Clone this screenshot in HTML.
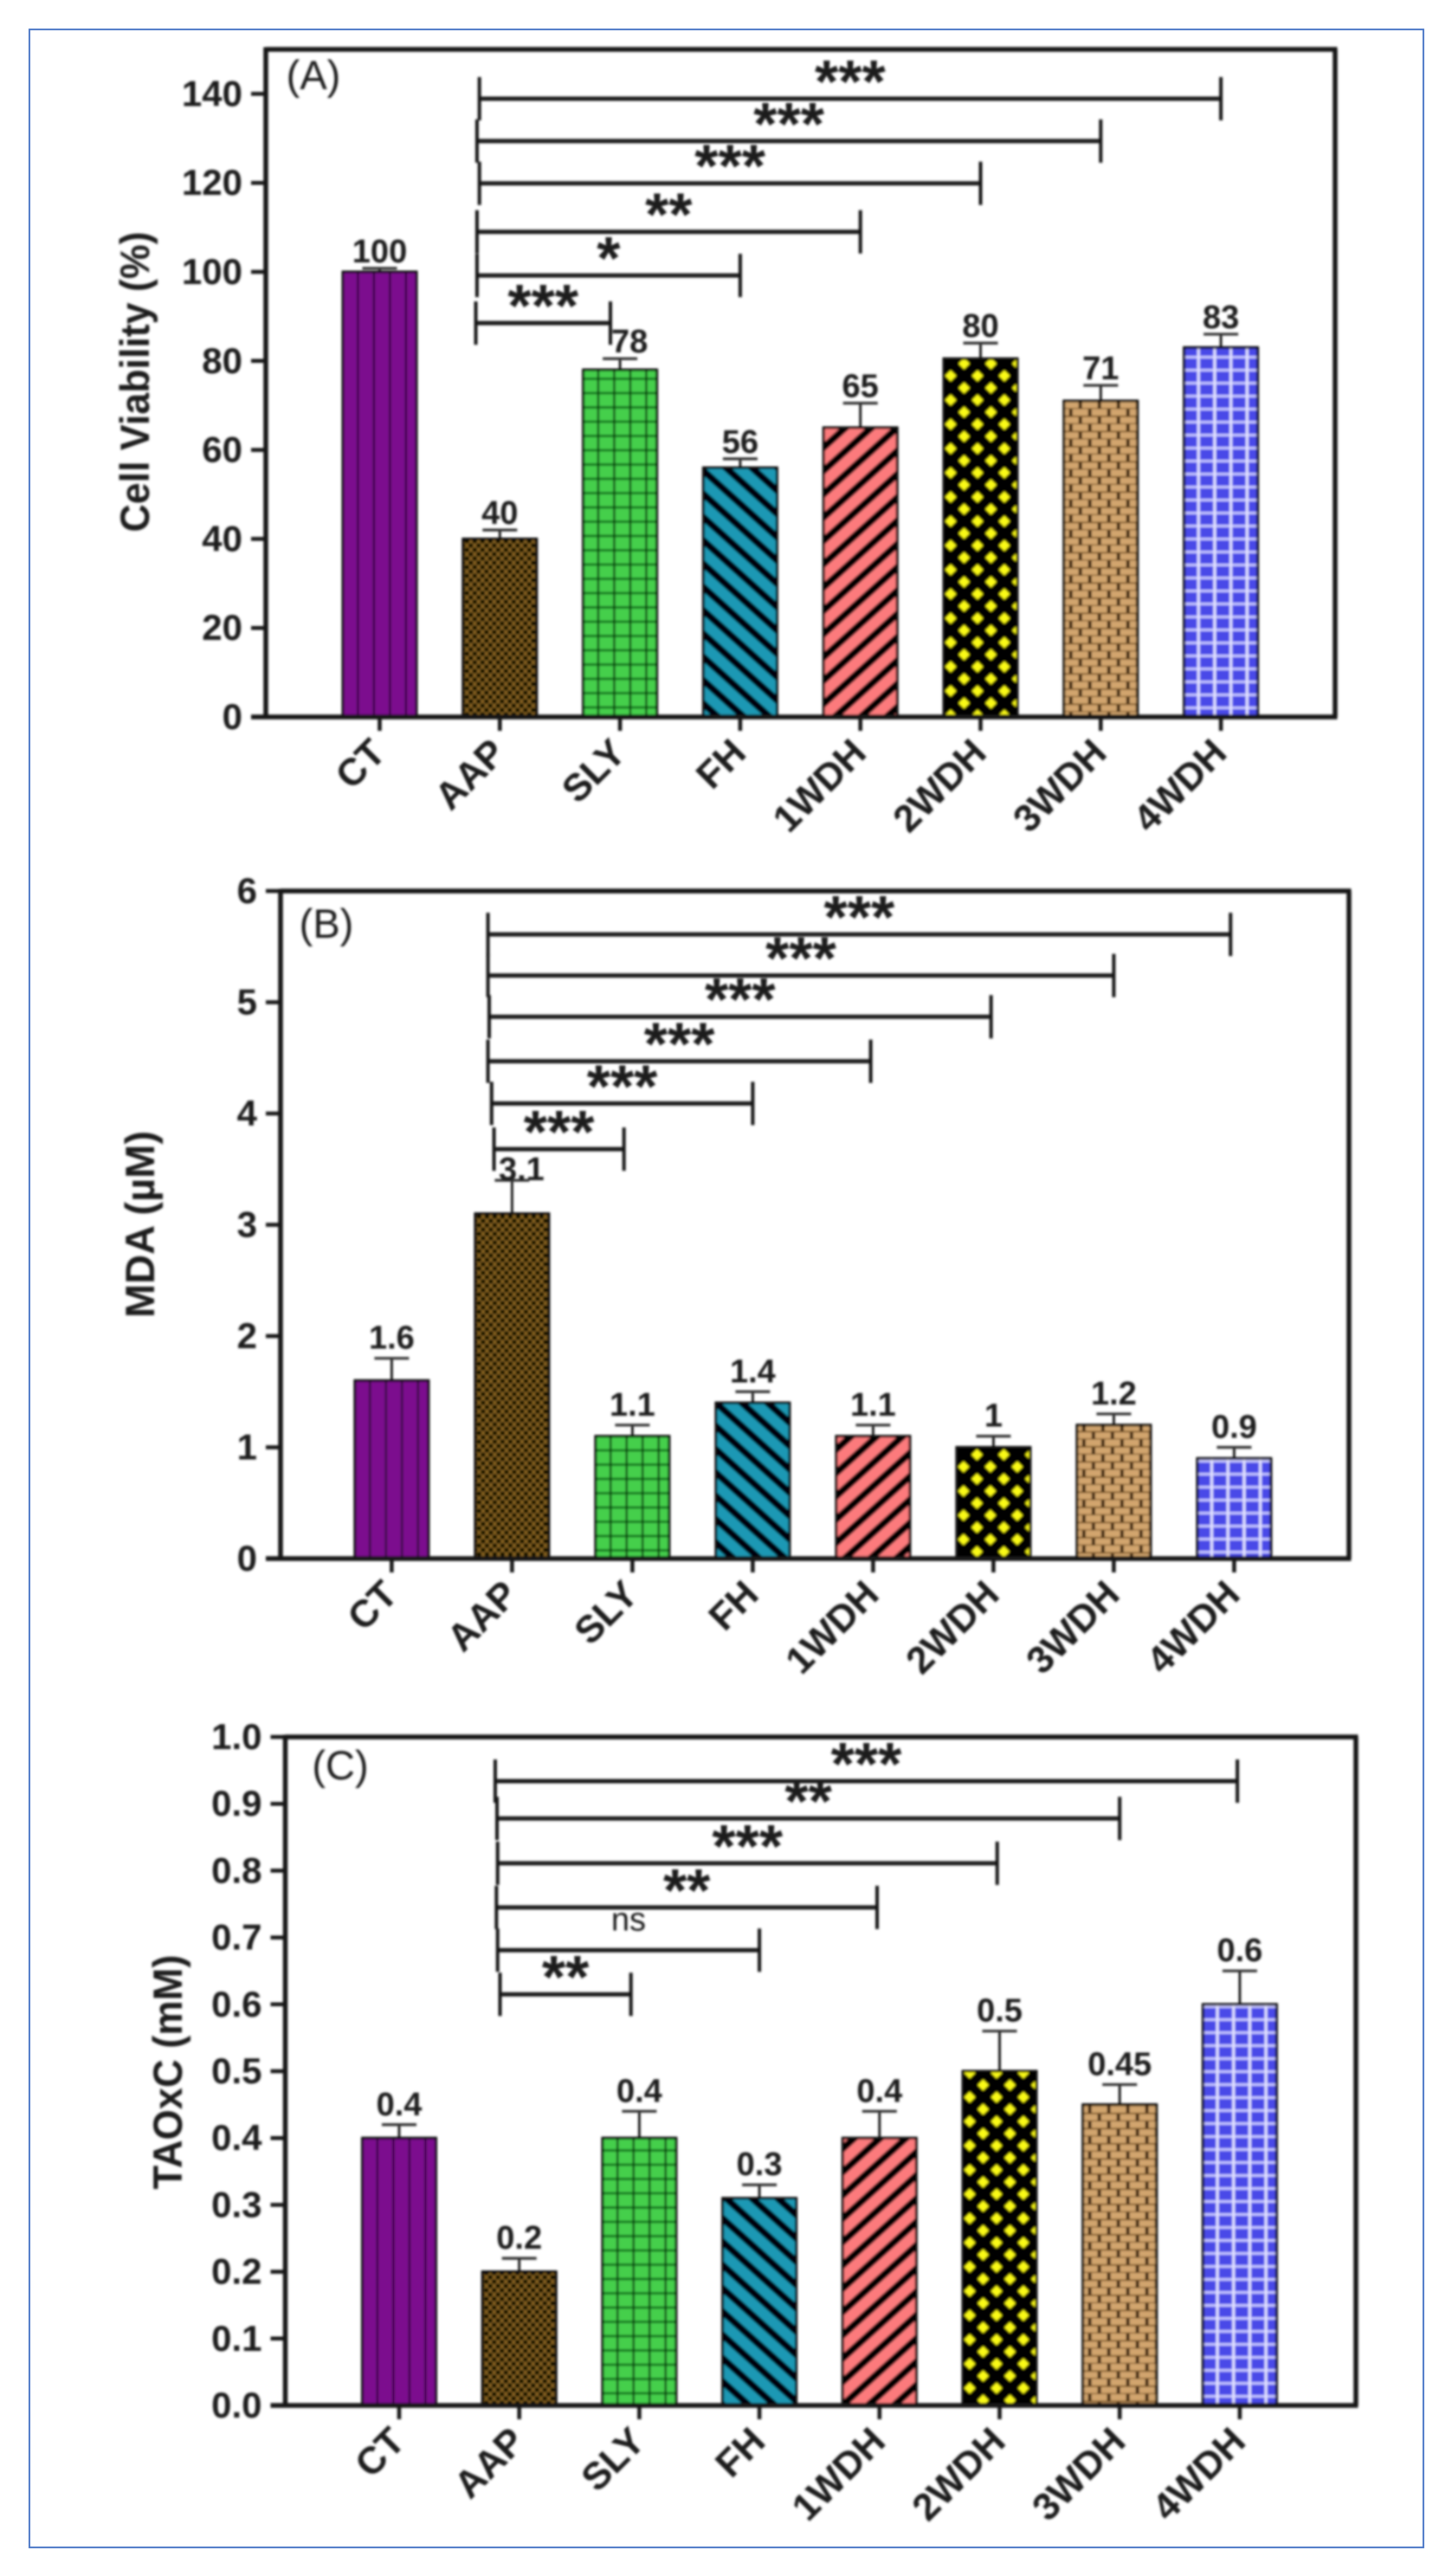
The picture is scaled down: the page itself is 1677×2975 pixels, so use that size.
<!DOCTYPE html>
<html lang="en">
<head>
<meta charset="utf-8">
<title>Cell viability, MDA and TAOxC bar charts</title>
<style>
  html, body { margin: 0; padding: 0; background: #fff; }
  #figure { display: block; width: 1677px; height: 2975px; }
  #frame { position: absolute; left: 33px; top: 33px; width: 1608px; height: 2906px; border: 2px solid #4472c4; box-sizing: content-box; }
  text { font-family: "Liberation Sans", sans-serif; fill: #1c1c1c; }
</style>
</head>
<body>
<div id="frame"></div>
<svg id="figure" xmlns="http://www.w3.org/2000/svg" width="1677" height="2975" viewBox="0 0 1677 2975">
  <defs>
    <filter id="soft" x="-2%" y="-2%" width="104%" height="104%"><feGaussianBlur stdDeviation="1.25"/></filter>
    <pattern id="p-ct" patternUnits="userSpaceOnUse" width="18.5" height="20">
      <rect width="18.5" height="20" fill="#7b0a8e"/>
      <rect x="16.3" width="2.8" height="20" fill="#2c0636"/>
    </pattern>
    <pattern id="p-aap" patternUnits="userSpaceOnUse" width="9" height="10">
      <rect width="9" height="10" fill="#8a6521"/>
      <circle cx="0" cy="0" r="2.9" fill="#0e0801"/>
      <circle cx="9" cy="0" r="2.9" fill="#0e0801"/>
      <circle cx="0" cy="10" r="2.9" fill="#0e0801"/>
      <circle cx="9" cy="10" r="2.9" fill="#0e0801"/>
      <circle cx="4.5" cy="5" r="2.9" fill="#0e0801"/>
    </pattern>
    <pattern id="p-sly" patternUnits="userSpaceOnUse" width="18.5" height="16.5">
      <rect width="18.5" height="16.5" fill="#44cf4c"/>
      <rect y="7" width="18.5" height="3" fill="#157a20"/>
      <rect x="16.2" width="3.2" height="16.5" fill="#073f0e"/>
    </pattern>
    <pattern id="p-fh" patternUnits="userSpaceOnUse" width="20" height="20" patternTransform="rotate(42)">
      <rect width="20" height="20" fill="#1a98b4"/>
      <rect width="20" height="8" fill="#020408"/>
    </pattern>
    <pattern id="p-wdh1" patternUnits="userSpaceOnUse" width="20" height="20" patternTransform="rotate(-42)">
      <rect width="20" height="20" fill="#fc7a7c"/>
      <rect width="20" height="8" fill="#030102"/>
    </pattern>
    <pattern id="p-wdh2" patternUnits="userSpaceOnUse" width="31" height="28">
      <rect width="31" height="28" fill="#040402"/>
      <polygon points="8,7.5 14.5,14 8,20.5 1.5,14" fill="#fafa18"/>
      <polygon points="23.5,-6.5 30,0 23.5,6.5 17,0" fill="#fafa18"/>
      <polygon points="23.5,21.5 30,28 23.5,34.5 17,28" fill="#fafa18"/>
    </pattern>
    <pattern id="p-wdh3" patternUnits="userSpaceOnUse" width="22" height="17.5">
      <rect width="22" height="17.5" fill="#d2a56e"/>
      <rect y="7.4" width="22" height="1.9" fill="#7f5a2c"/>
      <rect y="16.2" width="22" height="1.9" fill="#7f5a2c"/>
      <rect x="6" y="0" width="3.8" height="8" fill="#341c05"/>
      <rect x="17" y="9" width="3.8" height="8" fill="#341c05"/>
    </pattern>
    <pattern id="p-wdh4" patternUnits="userSpaceOnUse" width="18.7" height="15">
      <rect width="18.7" height="15" fill="#4a4ae8"/>
      <rect y="6" width="18.7" height="3" fill="#c4c4ff"/>
      <rect x="15" width="3.2" height="15" fill="#e2e2ff"/>
    </pattern>
  </defs>
  <g id="root" filter="url(#soft)"></g>
</svg>
<script>
// Shared category axis
var categories = ['CT', 'AAP', 'SLY', 'FH', '1WDH', '2WDH', '3WDH', '4WDH'];
var barPatterns = ['p-ct', 'p-aap', 'p-sly', 'p-fh', 'p-wdh1', 'p-wdh2', 'p-wdh3', 'p-wdh4'];

// Panel A: cell viability
var viabilityValues = [100, 40, 78, 56, 65, 80.5, 71, 83];
var viabilityErrorTops = [100.8, 42, 80.5, 58, 70.5, 84, 74.5, 86];
var viabilityLabels = ['100', '40', '78', '56', '65', '80', '71', '83'];
var viabilityTicks = [0, 20, 40, 60, 80, 100, 120, 140];
var viabilityTickLabels = ['0', '20', '40', '60', '80', '100', '120', '140'];
var viabilityBracketLevels = [138.9, 129.4, 119.9, 109, 99.2, 88.5];
var viabilityBracketStarts = [0.83, 0.81, 0.83, 0.81, 0.81, 0.80];
var viabilityBracketEnds = [7, 6, 5, 4, 3, 1.92];
var viabilityBracketMarks = ['***', '***', '***', '**', '*', '***'];

// Panel B: MDA
var mdaValues = [1.6, 3.1, 1.1, 1.4, 1.1, 1, 1.2, 0.9];
var mdaErrorTops = [1.8, 3.4, 1.2, 1.5, 1.2, 1.1, 1.3, 1];
var mdaLabels = ['1.6', '3.1', '1.1', '1.4', '1.1', '1', '1.2', '0.9'];
var mdaTicks = [0, 1, 2, 3, 4, 5, 6];
var mdaTickLabels = ['0', '1', '2', '3', '4', '5', '6'];
var mdaBracketLevels = [5.61, 5.24, 4.87, 4.47, 4.09, 3.68];
var mdaBracketStarts = [0.8, 0.8, 0.81, 0.8, 0.83, 0.85];
var mdaBracketEnds = [6.97, 6, 4.98, 3.98, 3, 1.93];
var mdaBracketMarks = ['***', '***', '***', '***', '***', '***'];

// Panel C: TAOxC
var taoValues = [0.4, 0.2, 0.4, 0.31, 0.4, 0.5, 0.45, 0.6];
var taoErrorTops = [0.42, 0.22, 0.44, 0.33, 0.44, 0.56, 0.48, 0.65];
var taoLabels = ['0.4', '0.2', '0.4', '0.3', '0.4', '0.5', '0.45', '0.6'];
var taoTicks = [0, 0.1, 0.2, 0.3, 0.4, 0.5, 0.6, 0.7, 0.8, 0.9, 1];
var taoTickLabels = ['0.0', '0.1', '0.2', '0.3', '0.4', '0.5', '0.6', '0.7', '0.8', '0.9', '1.0'];
var taoBracketLevels = [0.934, 0.878, 0.811, 0.745, 0.681, 0.615];
var taoBracketStarts = [0.8, 0.815, 0.82, 0.81, 0.82, 0.84];
var taoBracketEnds = [6.98, 6, 4.98, 3.98, 3, 1.93];
var taoBracketMarks = ['***', '**', '***', '**', 'ns', '**'];

var SVGNS = 'http://www.w3.org/2000/svg';
var INK = '#141414';

function make(tag, attrs, parent, content) {
  var node = document.createElementNS(SVGNS, tag);
  for (var key in attrs) { node.setAttribute(key, attrs[key]); }
  if (content !== undefined) { node.textContent = content; }
  parent.appendChild(node);
  return node;
}

function drawPanel(cfg) {
  var yScale = function (v) { return cfg.bottom - (v / cfg.yMax) * (cfg.bottom - cfg.top); };
  var xScale = function (i) { return cfg.x0 + i * cfg.step; };
  var BAR_HALF = 42.5, CAP_HALF = 20;

  var panel = make('g', {}, document.getElementById('root'));
  
  

  // Bars, error bars, value labels
  categories.forEach(function (cat, i) {
    var cx = xScale(i);
    var top = yScale(cfg.values[i]);
    var errY = yScale(cfg.errorTops[i]);

    var stem = make('line', { x1: cx, x2: cx, y1: top, y2: errY, stroke: INK, 'stroke-width': 2.8 }, panel);
    
    

    var cap = make('line', { x1: cx - CAP_HALF, x2: cx + CAP_HALF, y1: errY, y2: errY, stroke: '#333', 'stroke-width': 3.2 }, panel);
    
    

    var bar = make('rect', {
      x: 0, y: top, width: BAR_HALF * 2, height: cfg.bottom - top,
      transform: 'translate(' + (cx - BAR_HALF) + ',0)',
      fill: 'url(#' + barPatterns[i] + ')', stroke: '#0c0c0c', 'stroke-width': 3
    }, panel);
    
    

    var nudge = cfg.nudgeIndex === i ? cfg.nudge : { dx: 0, dy: 0 };
    var label = make('text', {
      x: cx + nudge.dx, y: errY - cfg.labelGap + nudge.dy,
      'text-anchor': 'middle', 'font-size': 38, 'font-weight': 'bold'
    }, panel, cfg.labels[i]);
    
    
  });

  // Axes
  var axisL = make('line', { x1: cfg.left, x2: cfg.left, y1: cfg.top - 2.5, y2: cfg.bottom + 2.5, stroke: INK, 'stroke-width': 5.5 }, panel);
  
  

  var axisB = make('line', { x1: cfg.left - 17, x2: cfg.right + 2.5, y1: cfg.bottom, y2: cfg.bottom, stroke: INK, 'stroke-width': 5.5 }, panel);
  
  

  var axisT = make('line', { x1: cfg.left, x2: cfg.right + 2.5, y1: cfg.top, y2: cfg.top, stroke: INK, 'stroke-width': 5.5 }, panel);
  
  

  var axisR = make('line', { x1: cfg.right, x2: cfg.right, y1: cfg.top, y2: cfg.bottom, stroke: INK, 'stroke-width': 5.5 }, panel);
  
  

  // Y ticks
  cfg.ticks.forEach(function (t, i) {
    var y = yScale(t);
    var tick = make('line', { x1: cfg.left - 17, x2: cfg.left, y1: y, y2: y, stroke: INK, 'stroke-width': 4.5 }, panel);
    
    

    var lab = make('text', { x: cfg.left - 27, y: y + 14, 'text-anchor': 'end', 'font-size': 42, 'font-weight': 'bold' }, panel, cfg.tickLabels[i]);
    
    
  });

  // X ticks and labels
  categories.forEach(function (cat, i) {
    var cx = xScale(i);
    var tick = make('line', { x1: cx, x2: cx, y1: cfg.bottom, y2: cfg.bottom + 16, stroke: INK, 'stroke-width': 4.5 }, panel);
    
    

    var ax = cx + 9, ay = cfg.bottom + 44;
    var lab = make('text', {
      x: ax, y: ay, 'text-anchor': 'end', 'font-size': 44, 'font-weight': 'bold',
      transform: 'rotate(-45 ' + ax + ' ' + ay + ')'
    }, panel, cat);
    
    
  });

  // Significance brackets
  cfg.bracketLevels.forEach(function (level, i) {
    var y = yScale(level);
    var x1 = xScale(cfg.bracketStarts[i]);
    var x2 = xScale(cfg.bracketEnds[i]);
    var H = 25;

    var span = make('line', { x1: x1, x2: x2, y1: y, y2: y, stroke: '#1e1e1e', 'stroke-width': 5 }, panel);
    
    

    var capL = make('line', { x1: x1, x2: x1, y1: y - H, y2: y + H, stroke: '#141414', 'stroke-width': 4 }, panel);
    
    

    var capR = make('line', { x1: x2, x2: x2, y1: y - H, y2: y + H, stroke: '#141414', 'stroke-width': 4 }, panel);
    
    

    var mark = cfg.bracketMarks[i];
    var mid = (x1 + x2) / 2;
    var sig;
    if (mark === 'ns') {
      sig = make('text', { x: mid, y: y - 23, 'text-anchor': 'middle', 'font-size': 38, fill: '#444' }, panel, mark);
    } else {
      sig = make('text', { x: mid, y: y + 4, 'text-anchor': 'middle', 'font-size': 70, 'font-weight': 'bold' }, panel, mark);
    }
    
    
  });

  // Axis title
  var title = make('text', {
    x: cfg.titleX, y: cfg.titleY, 'text-anchor': 'middle', 'font-size': 47, 'font-weight': 'bold',
    textLength: cfg.titleLength, lengthAdjust: 'spacingAndGlyphs',
    transform: 'rotate(-90 ' + cfg.titleX + ' ' + cfg.titleY + ')'
  }, panel, cfg.title);
  
  

  // Panel letter
  var letter = make('text', { x: cfg.letterX, y: cfg.letterY, 'text-anchor': 'middle', 'font-size': 47 }, panel, cfg.letter);
  
  
}

drawPanel({
  id: 'a', letter: '(A)', title: 'Cell Viability (%)',
  left: 307, right: 1542, top: 57, bottom: 828, yMax: 150, x0: 438.5, step: 138.8,
  values: viabilityValues, errorTops: viabilityErrorTops, labels: viabilityLabels,
  ticks: viabilityTicks, tickLabels: viabilityTickLabels,
  bracketLevels: viabilityBracketLevels, bracketStarts: viabilityBracketStarts,
  bracketEnds: viabilityBracketEnds, bracketMarks: viabilityBracketMarks,
  labelGap: 7, nudgeIndex: 2, nudge: { dx: 11, dy: 0 },
  titleX: 172, titleY: 441, titleLength: 347, letterX: 362, letterY: 103
});

drawPanel({
  id: 'b', letter: '(B)', title: 'MDA (\u00B5M)',
  left: 324, right: 1558, top: 1029, bottom: 1800, yMax: 6, x0: 452.4, step: 139,
  values: mdaValues, errorTops: mdaErrorTops, labels: mdaLabels,
  ticks: mdaTicks, tickLabels: mdaTickLabels,
  bracketLevels: mdaBracketLevels, bracketStarts: mdaBracketStarts,
  bracketEnds: mdaBracketEnds, bracketMarks: mdaBracketMarks,
  labelGap: 11, nudgeIndex: 1, nudge: { dx: 11, dy: 11 },
  titleX: 178, titleY: 1414, titleLength: 216, letterX: 377, letterY: 1083
});

drawPanel({
  id: 'c', letter: '(C)', title: 'TAOxC (mM)',
  left: 329.5, right: 1566, top: 2006, bottom: 2778, yMax: 1, x0: 461, step: 138.7,
  values: taoValues, errorTops: taoErrorTops, labels: taoLabels,
  ticks: taoTicks, tickLabels: taoTickLabels,
  bracketLevels: taoBracketLevels, bracketStarts: taoBracketStarts,
  bracketEnds: taoBracketEnds, bracketMarks: taoBracketMarks,
  labelGap: 11, nudgeIndex: -1, nudge: { dx: 0, dy: 0 },
  titleX: 210, titleY: 2393, titleLength: 271, letterX: 393, letterY: 2055
});
</script>
</body>
</html>
